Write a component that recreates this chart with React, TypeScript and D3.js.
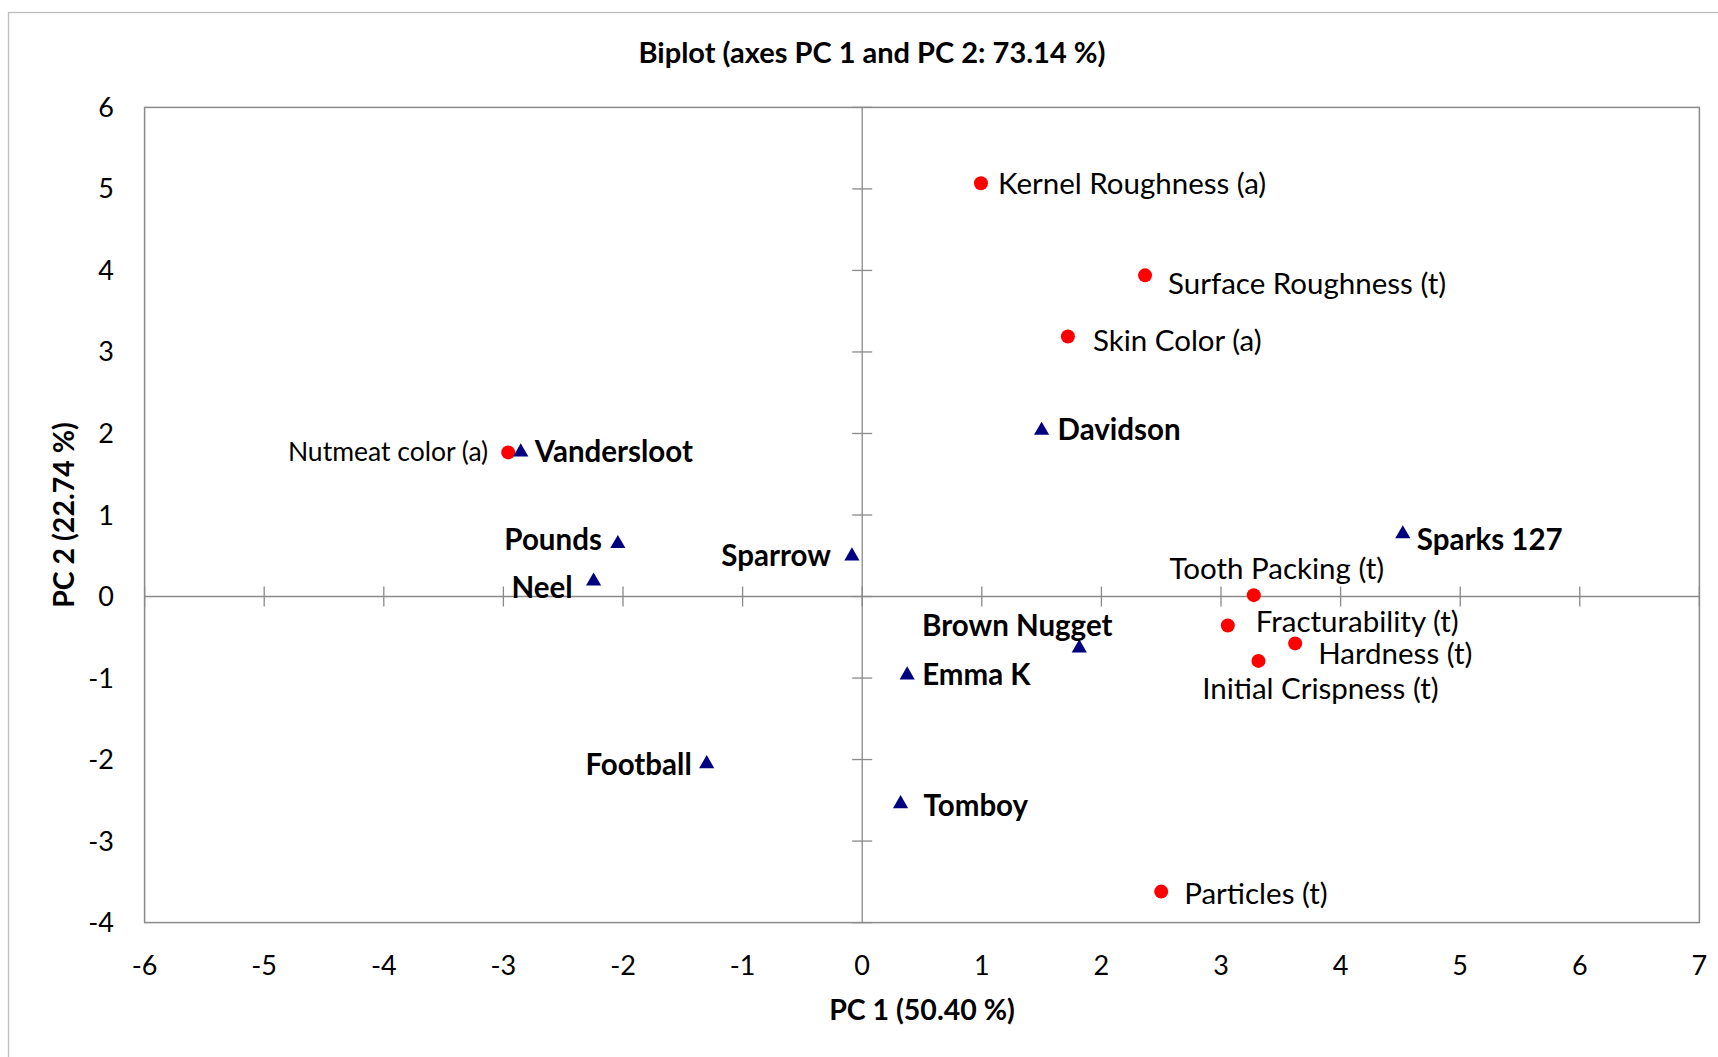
import React from "react";
import * as d3 from "d3";

const W = 1718;
const H = 1057;

// Observations (cultivars) – PC1, PC2
const obsNames = ["Vandersloot", "Pounds", "Neel", "Sparrow", "Davidson", "Sparks 127", "Brown Nugget", "Emma K", "Football", "Tomboy"];
const obsPC1 = [-2.855, -2.043, -2.246, -0.086, 1.5, 4.52, 1.815, 0.376, -1.3, 0.321];
const obsPC2 = [1.784, 0.66, 0.2, 0.508, 2.05, 0.78, -0.62, -0.952, -2.04, -2.53];

// Variables (attributes) – PC1, PC2
const varNames = ["Kernel Roughness (a)", "Surface Roughness (t)", "Skin Color (a)", "Nutmeat color (a)", "Tooth Packing (t)", "Fracturability (t)", "Hardness (t)", "Initial Crispness (t)", "Particles (t)"];
const varPC1 = [0.993, 2.365, 1.72, -2.96, 3.274, 3.057, 3.62, 3.313, 2.5];
const varPC2 = [5.07, 3.94, 3.19, 1.768, 0.017, -0.355, -0.575, -0.79, -3.62];

const xTicks = [-6, -5, -4, -3, -2, -1, 0, 1, 2, 3, 4, 5, 6, 7];
const yTicks = [-4, -3, -2, -1, 0, 1, 2, 3, 4, 5, 6];

const titleText = "Biplot (axes PC 1 and PC 2: 73.14 %)";
const xTitle = "PC 1 (50.40 %)";
const yTitle = "PC 2 (22.74 %)";

// label placement (anchor, dx, dy in px)
const obsLabelPlace: [string, number, number][] = [
  ["start", 14, -1],
  ["end", -16, -4],
  ["end", -21, 6],
  ["end", -21, -1],
  ["start", 16, -1],
  ["start", 14, 6],
  ["middle", -62, -23],
  ["start", 15, -1],
  ["end", -15, 1],
  ["start", 23, 2],
];
const varLabelPlace: [string, number, number][] = [
  ["start", 17, -1],
  ["start", 23, 7],
  ["start", 25, 3],
  ["end", -20, -1],
  ["middle", 23, -28],
  ["start", 28, -5],
  ["start", 23, 9],
  ["middle", 62, 27],
  ["start", 23, 1],
];

const FONT = "Lato, 'Open Sans', sans-serif";

export default function App() {
  const x = d3.scaleLinear().domain([-6, 7]).range([144.6, 1699.4]);
  const y = d3.scaleLinear().domain([-4, 6]).range([922.6, 107.4]);
  const axisColor = "#8a8a8a";
  const tri = d3.symbol().type(d3.symbolTriangle).size(100)();

  return (
    <svg width={W} height={H} style={{ position: "absolute", left: 0, top: 0, background: "#fff" }} fontFamily={FONT}>
      <rect x={0} y={0} width={W} height={H} fill="#fff" />
      <rect x={8.5} y={12.5} width={W + 10} height={H + 10} fill="none" stroke="#bdbdbd" strokeWidth={1.3} />
      <text x={872} y={51} textAnchor="middle" dominantBaseline="central" fontSize={29} fontWeight="bold">{titleText}</text>

      {/* plot frame */}
      <rect x={x(-6)} y={y(6)} width={x(7) - x(-6)} height={y(-4) - y(6)} fill="none" stroke={axisColor} strokeWidth={1.5} />

      {/* zero axes */}
      <line x1={x(-6)} x2={x(7)} y1={y(0)} y2={y(0)} stroke={axisColor} strokeWidth={1.3} />
      <line x1={x(0)} x2={x(0)} y1={y(-4)} y2={y(6)} stroke={axisColor} strokeWidth={1.3} />
      {xTicks.map((t) => (
        <line key={"xt" + t} x1={x(t)} x2={x(t)} y1={y(0) - 10} y2={y(0) + 10} stroke={axisColor} strokeWidth={1.3} />
      ))}
      {yTicks.map((t) => (
        <line key={"yt" + t} x1={x(0) - 10} x2={x(0) + 10} y1={y(t)} y2={y(t)} stroke={axisColor} strokeWidth={1.3} />
      ))}

      {/* tick labels */}
      {xTicks.map((t) => (
        <text key={"xl" + t} x={x(t)} y={964} textAnchor="middle" dominantBaseline="central" fontSize={27}>{t}</text>
      ))}
      {yTicks.map((t) => (
        <text key={"yl" + t} x={114} y={y(t) - 1} textAnchor="end" dominantBaseline="central" fontSize={27}>{t}</text>
      ))}

      {/* axis titles */}
      <text x={922} y={1009} textAnchor="middle" dominantBaseline="central" fontSize={28.5} fontWeight="bold">{xTitle}</text>
      <text transform={`translate(63,515) rotate(-90)`} textAnchor="middle" dominantBaseline="central" fontSize={28.5} fontWeight="bold">{yTitle}</text>

      {/* variables */}
      {varNames.map((n, i) => (
        <circle key={"vc" + i} cx={x(varPC1[i])} cy={y(varPC2[i])} r={7} fill="#ff0000" />
      ))}
      {/* observations */}
      {obsNames.map((n, i) => (
        <path key={"op" + i} d={tri as string} transform={`translate(${x(obsPC1[i])},${y(obsPC2[i]) + 1})`} fill="#000080" />
      ))}

      {varNames.map((n, i) => {
        const [a, dx, dy] = varLabelPlace[i];
        return (
          <text key={"vl" + i} x={x(varPC1[i]) + dx} y={y(varPC2[i]) + dy} textAnchor={a as any} dominantBaseline="central" fontSize={i === 3 ? 26.5 : 29.5}>{n}</text>
        );
      })}
      {obsNames.map((n, i) => {
        const [a, dx, dy] = obsLabelPlace[i];
        return (
          <text key={"ol" + i} x={x(obsPC1[i]) + dx} y={y(obsPC2[i]) + dy} textAnchor={a as any} dominantBaseline="central" fontSize={29.5} fontWeight="bold">{n}</text>
        );
      })}
    </svg>
  );
}
